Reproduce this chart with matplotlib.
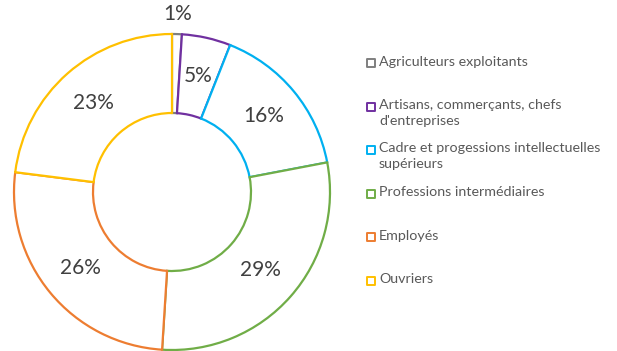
import matplotlib.pyplot as plt
import numpy as np

# share of each socio-professional category (percent)
categories = ['Agriculteurs exploitants',
              'Artisans, commerçants, chefs\nd\'entreprises',
              'Cadre et progessions intellectuelles\nsupérieurs',
              'Professions intermédiaires',
              'Employés',
              'Ouvriers']
shares = [1, 5, 16, 29, 26, 23]
colors = ['#7f7f7f', '#7030a0', '#00b0f0', '#70ad47', '#ed7d31', '#ffc000']

plt.rcParams['font.family'] = ['Lato', 'DejaVu Sans']

W, H = 617, 351
fig = plt.figure(figsize=(W / 100, H / 100), dpi=100)

# donut: white wedges, each outlined in its own colour
ax = fig.add_axes([14 / W, 1 / H, 316 / W, 316 / H])
wedges, _ = ax.pie(shares, startangle=90, counterclock=False, radius=1,
                   wedgeprops=dict(width=0.5, facecolor='white', linewidth=1.6))
for w, c in zip(wedges, colors):
    w.set_edgecolor(c)

for w, v in zip(wedges, shares):
    mid = np.deg2rad((w.theta1 + w.theta2) / 2)
    r = 1.13 if v < 2 else 0.75
    ax.text(r * np.cos(mid), r * np.sin(mid), '{}%'.format(v),
            ha='center', va='center', fontsize=15, color='#404040')
ax.set_xlim(-1, 1)
ax.set_ylim(-1, 1)

# legend drawn in pixel coordinates
lg = fig.add_axes([0, 0, 1, 1], facecolor='none')
lg.set_xlim(0, W)
lg.set_ylim(H, 0)
lg.axis('off')
for i, (name, c) in enumerate(zip(categories, colors)):
    y = 63 + i * 43.5
    lg.scatter([371], [y], marker='s', s=32, facecolor='white',
               edgecolor=c, linewidth=1.4)
    lg.text(379, y - 7.5, name, ha='left', va='top', fontsize=10.3,
            color='#595959', linespacing=1.4)

fig.savefig('out.png', dpi=100)
